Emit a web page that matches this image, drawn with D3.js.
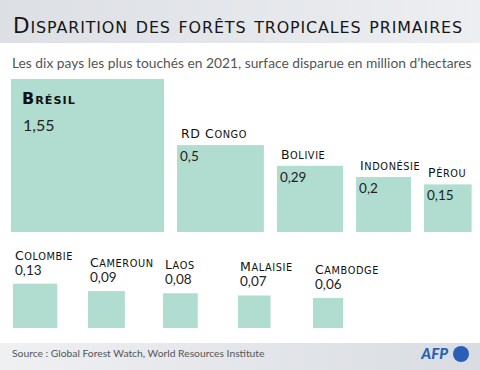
<!DOCTYPE html>
<html>
<head>
<meta charset="utf-8">
<script src="https://cdn.jsdelivr.net/npm/d3@7"></script>
<style>
  body { margin: 0; background: #fff; }
  text { font-family: Lato, "Open Sans", sans-serif; }
  .caps { font-family: "DejaVu Sans", sans-serif; }
</style>
</head>
<body>
<svg id="chart" width="480" height="370"></svg>
<script>
// Data: forest loss 2021, million hectares
var countries = ["Brésil", "RD Congo", "Bolivie", "Indonésie", "Pérou",
                 "Colombie", "Cameroun", "Laos", "Malaisie", "Cambodge"];
var values = [1.55, 0.5, 0.29, 0.2, 0.15, 0.13, 0.09, 0.08, 0.07, 0.06];
var row1 = countries.slice(0, 5);
var row2 = countries.slice(5);

var title = "Disparition des forêts tropicales primaires";
var subtitle = "Les dix pays les plus touchés en 2021, surface disparue en million d\u2019hectares";
var source = "Source : Global Forest Watch, World Resources Institute";

var svg = d3.select("#chart");
var fill = "#b0ddd0";

// French decimal comma
var fmt = function(v) { return String(v).replace(".", ","); };

// small caps by hand: lowercase runs drawn as smaller capitals
function smallCaps(sel, str, size, ratio) {
  str.match(/[a-zà-ÿ]+|[^a-zà-ÿ]+/g).forEach(function(p) {
    var low = /[a-zà-ÿ]/.test(p);
    sel.append("tspan")
      .attr("font-size", low ? size * ratio : size)
      .text(low ? p.toUpperCase() : p);
  });
}

// square side proportional to sqrt(value) so area = value
var side = d3.scaleSqrt().domain([0, 1.55]).range([0, 153]);

var data = countries.map(function(c, i) { return {name: c, value: values[i]}; });

// gradients for header / footer bands
var defs = svg.append("defs");
var g1 = defs.append("linearGradient").attr("id", "head");
g1.append("stop").attr("offset", "0%").attr("stop-color", "#dcdfe4");
g1.append("stop").attr("offset", "100%").attr("stop-color", "#eceef1");
var g2 = defs.append("linearGradient").attr("id", "foot");
g2.append("stop").attr("offset", "0%").attr("stop-color", "#eef0f2");
g2.append("stop").attr("offset", "100%").attr("stop-color", "#d9dce2");

svg.append("rect").attr("x", 0).attr("y", 0).attr("width", 480).attr("height", 43)
  .attr("fill", "url(#head)");
var t = svg.append("text").attr("class", "caps")
  .attr("x", 13).attr("y", 33)
  .attr("fill", "#151515");
smallCaps(t, title, 21.5, 0.74);
// spread the title so it runs across the header like the original
var tw = t.node().getComputedTextLength();
t.attr("letter-spacing", Math.max(0, (450 - tw) / title.length));

svg.append("text")
  .attr("x", 12).attr("y", 68)
  .attr("font-size", 13.8).attr("fill", "#555")
  .text(subtitle);

// row 1: squares laid side by side on a common baseline
var base1 = 232, gap = 13, x = 11;
var r1 = data.slice(0, 5).map(function(d) {
  var s = side(d.value);
  var o = {name: d.name, value: d.value, x: x, s: s};
  x += s + gap;
  return o;
});

var g = svg.append("g");
g.selectAll("rect.r1").data(r1).enter().append("rect")
  .attr("x", function(d) { return d.x; })
  .attr("y", function(d) { return base1 - d.s; })
  .attr("width", function(d) { return d.s; })
  .attr("height", function(d) { return d.s; })
  .attr("fill", fill);

// Brazil: labels inside the big square
var big = r1[0];
var bt = g.append("text").attr("class", "caps")
  .attr("x", big.x + 11).attr("y", base1 - big.s + 25)
  .attr("font-weight", "bold").attr("letter-spacing", 1).attr("fill", "#111");
smallCaps(bt, big.name, 16, 0.7);
g.append("text")
  .attr("x", big.x + 12).attr("y", base1 - big.s + 52)
  .attr("font-size", 16).attr("fill", "#222")
  .text(fmt(big.value));

var rest = r1.slice(1);
g.selectAll("text.n1").data(rest).enter().append("text")
  .attr("class", "caps")
  .attr("x", function(d) { return d.x + 4; })
  .attr("y", function(d) { return base1 - d.s - 7; })
  .attr("letter-spacing", 0.6).attr("fill", "#111")
  .each(function(d) { smallCaps(d3.select(this), d.name, 12.5, 0.78); });
g.selectAll("text.v1").data(rest).enter().append("text")
  .attr("x", function(d) { return d.x + 3; })
  .attr("y", function(d) { return base1 - d.s + 16; })
  .attr("font-size", 13.5).attr("fill", "#222")
  .text(function(d) { return fmt(d.value); });

// row 2: small squares with labels above
var base2 = 328;
var xp = d3.scalePoint().domain(row2).range([13, 313]);
var r2 = data.slice(5);

g.selectAll("rect.r2").data(r2).enter().append("rect")
  .attr("x", function(d) { return xp(d.name); })
  .attr("y", function(d) { return base2 - side(d.value); })
  .attr("width", function(d) { return side(d.value); })
  .attr("height", function(d) { return side(d.value); })
  .attr("fill", fill);
g.selectAll("text.n2").data(r2).enter().append("text")
  .attr("class", "caps")
  .attr("x", function(d) { return xp(d.name) + 2; })
  .attr("y", function(d) { return base2 - side(d.value) - 24; })
  .attr("letter-spacing", 0.6).attr("fill", "#111")
  .each(function(d) { smallCaps(d3.select(this), d.name, 12.5, 0.78); });
g.selectAll("text.v2").data(r2).enter().append("text")
  .attr("x", function(d) { return xp(d.name) + 2; })
  .attr("y", function(d) { return base2 - side(d.value) - 9; })
  .attr("font-size", 13.5).attr("fill", "#222")
  .text(function(d) { return fmt(d.value); });

// footer
svg.append("rect").attr("x", 0).attr("y", 343).attr("width", 480).attr("height", 27)
  .attr("fill", "url(#foot)");
svg.append("text")
  .attr("x", 12).attr("y", 357)
  .attr("font-size", 10.3).attr("fill", "#555")
  .text(source);
svg.append("text")
  .attr("x", 448).attr("y", 359)
  .attr("text-anchor", "end")
  .attr("font-size", 15).attr("font-weight", 900).attr("font-style", "italic")
  .attr("fill", "#2a5fb8")
  .text("AFP");
svg.append("circle").attr("cx", 461).attr("cy", 354).attr("r", 8)
  .attr("fill", "#2a5fb8");
</script>
</body>
</html>
